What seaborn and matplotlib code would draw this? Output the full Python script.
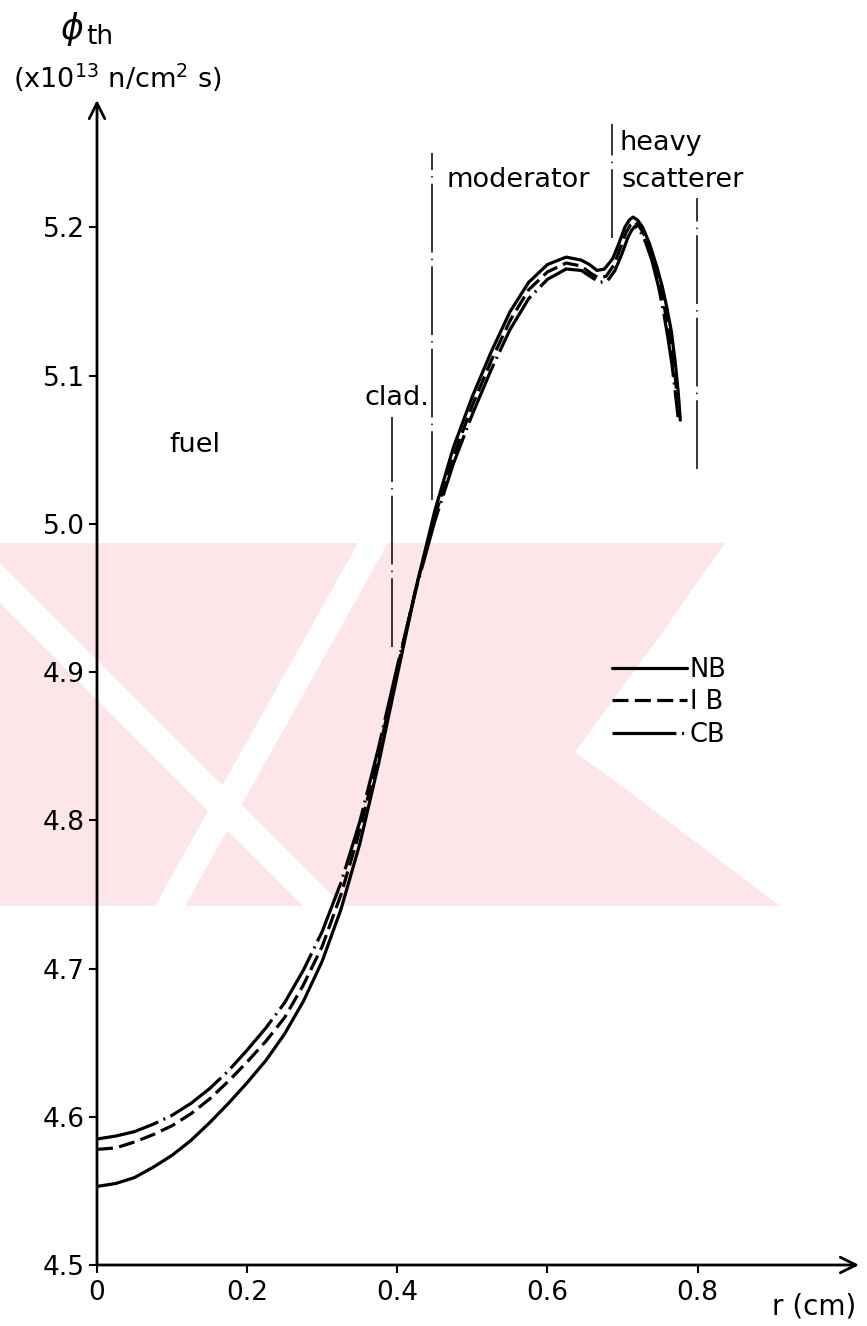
import matplotlib
matplotlib.use("Agg")
import matplotlib.pyplot as plt
from matplotlib.patches import Polygon
import numpy as np
import pandas as pd
import seaborn as sns

# Thermal neutron flux across the unit cell for three treatments
r_nb = [0, 0.025, 0.05, 0.075, 0.1, 0.125, 0.15, 0.175, 0.2, 0.225, 0.25, 0.275, 0.3,
        0.325, 0.35, 0.375, 0.4, 0.425, 0.45, 0.475, 0.5, 0.525, 0.55, 0.575, 0.6,
        0.625, 0.645, 0.656, 0.666, 0.676, 0.687, 0.695, 0.703, 0.709, 0.714, 0.72,
        0.727, 0.736, 0.746, 0.753, 0.759, 0.765, 0.77, 0.774, 0.777]
phi_nb = [4.553, 4.555, 4.559, 4.566, 4.574, 4.584, 4.596, 4.609, 4.623, 4.638, 4.656,
          4.678, 4.705, 4.740, 4.784, 4.838, 4.898, 4.957, 5.009, 5.052, 5.086, 5.116,
          5.143, 5.163, 5.175, 5.180, 5.178, 5.175, 5.171, 5.172, 5.179, 5.189, 5.200,
          5.205, 5.207, 5.205, 5.200, 5.189, 5.173, 5.160, 5.146, 5.130, 5.110, 5.090,
          5.070]

r_ib = [0, 0.025, 0.05, 0.075, 0.1, 0.125, 0.15, 0.175, 0.2, 0.225, 0.25, 0.275, 0.3,
        0.325, 0.35, 0.375, 0.4, 0.425, 0.45, 0.475, 0.5, 0.525, 0.55, 0.575, 0.6,
        0.625, 0.645, 0.658, 0.668, 0.678, 0.689, 0.697, 0.705, 0.711, 0.716, 0.722,
        0.729, 0.738, 0.747, 0.755, 0.761, 0.766, 0.771, 0.775]
phi_ib = [4.578, 4.579, 4.583, 4.588, 4.594, 4.602, 4.612, 4.624, 4.637, 4.651, 4.667,
          4.689, 4.715, 4.750, 4.793, 4.845, 4.902, 4.957, 5.005, 5.046, 5.080, 5.110,
          5.137, 5.158, 5.170, 5.176, 5.174, 5.169, 5.166, 5.167, 5.175, 5.186, 5.197,
          5.202, 5.204, 5.201, 5.195, 5.183, 5.166, 5.148, 5.132, 5.115, 5.095, 5.072]

r_cb = [0, 0.025, 0.05, 0.075, 0.1, 0.125, 0.15, 0.175, 0.2, 0.225, 0.25, 0.275, 0.3,
        0.325, 0.35, 0.375, 0.4, 0.425, 0.45, 0.475, 0.5, 0.525, 0.55, 0.575, 0.6,
        0.625, 0.645, 0.66, 0.67, 0.68, 0.69, 0.699, 0.707, 0.712, 0.717, 0.723, 0.73,
        0.739, 0.748, 0.755, 0.761, 0.766, 0.77, 0.774]
phi_cb = [4.585, 4.587, 4.590, 4.595, 4.601, 4.609, 4.619, 4.631, 4.645, 4.660, 4.677,
          4.699, 4.725, 4.758, 4.799, 4.849, 4.904, 4.956, 5.002, 5.041, 5.074, 5.104,
          5.131, 5.152, 5.165, 5.172, 5.171, 5.166, 5.163, 5.164, 5.171, 5.182, 5.193,
          5.198, 5.201, 5.198, 5.191, 5.178, 5.160, 5.142, 5.124, 5.107, 5.090, 5.072]

cases = ["NB", "I B", "CB"]
x_ticks = [0, 0.2, 0.4, 0.6, 0.8]
x_tick_labels = ["0", "0.2", "0.4", "0.6", "0.8"]
y_ticks = [4.5, 4.6, 4.7, 4.8, 4.9, 5.0, 5.1, 5.2]
y_tick_labels = ["4.5", "4.6", "4.7", "4.8", "4.9", "5.0", "5.1", "5.2"]

# region boundaries (r, lower phi, upper phi)
boundary_r = [0.393, 0.446, 0.686, 0.799]
boundary_lo = [4.917, 5.016, 5.193, 5.037]
boundary_hi = [5.072, 5.250, 5.270, 5.220]

df = pd.concat([
    pd.DataFrame({"r": r_nb, "phi": phi_nb, "case": cases[0]}),
    pd.DataFrame({"r": r_ib, "phi": phi_ib, "case": cases[1]}),
    pd.DataFrame({"r": r_cb, "phi": phi_cb, "case": cases[2]}),
], ignore_index=True)

sns.set_theme(style="white")
plt.rcParams["font.family"] = ["DejaVu Sans"]
for key in ("text.color", "axes.labelcolor", "xtick.color", "ytick.color"):
    plt.rcParams[key] = "black"

W, H = 867, 1326
fig = plt.figure(figsize=(W / 100, H / 100), dpi=100)
fig.patch.set_facecolor("white")


def px(pts):
    """pixel (x from left, y from top) -> figure fraction"""
    return [(x / W, 1 - y / H) for x, y in pts]


# faint background stamp behind the plot
pink = "#fde6ea"
stamp = [
    ([(0, 543), (725, 543), (657, 640), (575, 752), (627, 790), (780, 906), (0, 906)], pink),
    ([(-60, 543), (-20, 543), (343, 906), (303, 906)], "white"),
    ([(358, 543), (388, 543), (185, 906), (155, 906)], "white"),
]
for pts, col in stamp:
    fig.add_artist(Polygon(px(pts), closed=True, transform=fig.transFigure,
                           facecolor=col, edgecolor="none", zorder=-5))

ax = fig.add_axes([97 / W, (H - 1265) / H, (859 - 97) / W, (1265 - 100) / H])
ax.set_facecolor("none")
ax.set_xlim(0, 1.015)
ax.set_ylim(4.5, 5.286)

sns.lineplot(data=df, x="r", y="phi", hue="case", style="case",
             hue_order=cases, style_order=cases,
             palette={c: "black" for c in cases},
             dashes={"NB": "", "I B": (5.0, 2.0), "CB": (20, 1.8, 0.6, 1.8)},
             sort=False, estimator=None, linewidth=2.3, ax=ax, legend=False)
for ln in ax.lines:
    ln.set_solid_joinstyle("round")
    ln.set_dash_joinstyle("round")

# dash-dot region boundaries
for rb, lo, hi in zip(boundary_r, boundary_lo, boundary_hi):
    ax.plot([rb, rb], [lo, hi], color="black", lw=1.1,
            linestyle=(0, (45, 4, 1, 4)), solid_capstyle="butt")

# axes drawn as arrows
for s in ax.spines.values():
    s.set_visible(False)
arrow = dict(arrowstyle="->", lw=2.0, color="black", mutation_scale=28,
             shrinkA=0, shrinkB=0)
ax.annotate("", xy=(1.015, 4.5), xytext=(0, 4.5), arrowprops=arrow,
            annotation_clip=False)
ax.annotate("", xy=(0, 5.286), xytext=(0, 4.5), arrowprops=arrow,
            annotation_clip=False)

ax.set_xticks(x_ticks)
ax.set_xticklabels(x_tick_labels)
ax.set_yticks(y_ticks)
ax.set_yticklabels(y_tick_labels)
ax.tick_params(axis="both", which="major", bottom=True, left=True,
               direction="out", length=6, width=1.5, color="black",
               labelsize=19, labelcolor="black")
ax.tick_params(axis="x", pad=5)
ax.tick_params(axis="y", pad=3)
ax.set_xlabel("")
ax.set_ylabel("")
ax.grid(False)

# region labels
txt = dict(color="black", fontsize=19.5)
ax.text(0.13, 5.053, "fuel", ha="center", va="center", **txt)
ax.text(0.40, 5.085, "clad.", ha="center", va="center", **txt)
ax.text(0.561, 5.232, "moderator", ha="center", va="center", **txt)
ax.text(0.696, 5.257, "heavy", ha="left", va="center", **txt)
ax.text(0.699, 5.232, "scatterer", ha="left", va="center", **txt)

# axis titles
fig.text(72 / W, 1 - 29 / H, r"$\phi$", fontsize=25, ha="center", va="center")
fig.text(86 / W, 1 - 37 / H, "th", fontsize=19, ha="left", va="center")
fig.text(13 / W, 1 - 78 / H, r"(x10$^{13}$ n/cm$^{2}$ s)", fontsize=19.5,
         ha="left", va="center")
fig.text(814 / W, 1 - 1307 / H, "r (cm)", fontsize=20, ha="center", va="center")

leg = ax.legend(handles=ax.lines[:3], labels=["NB", "I B", "CB"],
                loc="upper left", bbox_to_anchor=(612 / W, 1 - 657 / H),
                bbox_transform=fig.transFigure, frameon=False, fontsize=18.5,
                handlelength=2.9, handletextpad=0.12, labelspacing=0.25,
                borderpad=0, borderaxespad=0)

fig.savefig("out.png", dpi=100, facecolor="white")
